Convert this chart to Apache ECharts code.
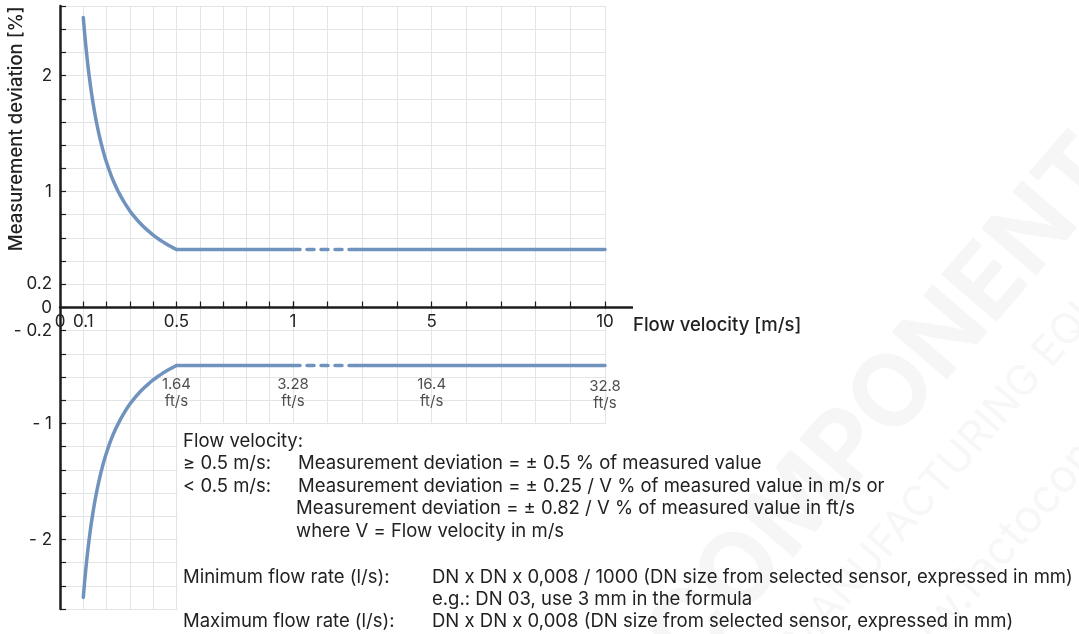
<!DOCTYPE html>
<html>
<head>
<meta charset="utf-8">
<script src="https://cdn.jsdelivr.net/npm/echarts/dist/echarts.min.js"></script>
<style>
html,body{margin:0;padding:0;background:#ffffff;}
#chart{width:1079px;height:634px;}
</style>
</head>
<body>
<div id="chart"></div>
<script>
// ---------------- data ----------------
const curveVelocity      = [0.1, 0.105, 0.11, 0.115, 0.12, 0.13, 0.14, 0.15, 0.16, 0.17, 0.18, 0.19, 0.2, 0.22, 0.24, 0.26, 0.28, 0.3, 0.32, 0.34, 0.36, 0.38, 0.4, 0.42, 0.44, 0.46, 0.48, 0.5];
const curveUpper         = [2.5, 2.381, 2.273, 2.174, 2.083, 1.923, 1.786, 1.667, 1.563, 1.471, 1.389, 1.316, 1.25, 1.136, 1.042, 0.962, 0.893, 0.833, 0.781, 0.735, 0.694, 0.658, 0.625, 0.595, 0.568, 0.543, 0.521, 0.5];
const curveLower         = [-2.5, -2.381, -2.273, -2.174, -2.083, -1.923, -1.786, -1.667, -1.563, -1.471, -1.389, -1.316, -1.25, -1.136, -1.042, -0.962, -0.893, -0.833, -0.781, -0.735, -0.694, -0.658, -0.625, -0.595, -0.568, -0.543, -0.521, -0.5];
const flatLeftVelocity   = [0.5, 1.0];
const breakVelocity      = [1.0, 2.8];
const flatRightVelocity  = [2.8, 10];
const flatUpper          = 0.5;
const flatLower          = -0.5;
const xTickLabels        = [0, 0.1, 0.5, 1, 5, 10];
const yTickLabels        = [2, 1, 0.2, 0, -0.2, -1, -2];
const ftVelocity         = [0.5, 1, 5, 10];
const ftValues           = ['1.64', '3.28', '16.4', '32.8'];
const xAxisTitle         = 'Flow velocity [m/s]';
const yAxisTitle         = 'Measurement deviation [%]';
const infoFlowRows = [
  ['Flow velocity:', ''],
  ['≥ 0.5 m/s:', 'Measurement deviation = ± 0.5 % of measured value'],
  ['< 0.5 m/s:', 'Measurement deviation = ± 0.25 / V % of measured value in m/s or'],
  ['', 'Measurement deviation = ± 0.82 / V % of measured value in ft/s'],
  ['', 'where V = Flow velocity in m/s']
];
const infoRateRows = [
  ['Minimum flow rate (l/s):', 'DN x DN x 0,008 / 1000 (DN size from selected sensor, expressed in mm)'],
  ['', 'e.g.: DN 03, use 3 mm in the formula'],
  ['Maximum flow rate (l/s):', 'DN x DN x 0,008 (DN size from selected sensor, expressed in mm)']
];
const watermark = ['COMPONENT', 'AND MANUFACTURING EQUIPMENT', 'www.factocomp.com'];

// ---------------- styling ----------------
const FONT = 'Inter, "Noto Sans", "DejaVu Sans", sans-serif';
const LINE_COLOR = '#7093be';
const AXIS_COLOR = '#1c1c1c';
const GRID_COLOR = '#e1e5e5';
const TEXT_COLOR = '#222222';
const Y_MIN = -2.6, Y_MAX = 2.6;
const GRID_TOP = 6, GRID_H = 603;

const chart = echarts.init(document.getElementById('chart'), null, {renderer: 'canvas'});

function r1(v) { return Math.round(v * 1000) / 1000; }
function fmtY(v) {
  v = r1(v);
  if (yTickLabels.indexOf(v) < 0) return '';
  return v < 0 ? '- ' + String(-v) : String(v);
}
function fmtX(v) {
  v = r1(v);
  return xTickLabels.indexOf(v) < 0 ? '' : String(v);
}
const pairs = (xs, ys) => xs.map((x, i) => [x, ys[i]]);
const flat = (xs, y) => xs.map(x => [x, y]);

const ftData = ftVelocity.map((v, i) => ({name: ftValues[i], value: [v, flatLower]}));
const ftLeft = ftData.filter(d => d.value[0] < 1);
const ftRight = ftData.filter(d => d.value[0] >= 1).map(d =>
  d.value[0] === 10 ? Object.assign({}, d, {label: {distance: 13}}) : d);

// x axes sit on y = 0 (the zero line of the value range)
const zeroOffset = -GRID_H * (0 - Y_MIN) / (Y_MAX - Y_MIN);

const axisCommonX = {
  type: 'value', position: 'bottom', offset: zeroOffset,
  axisLine: {show: true, onZero: false, lineStyle: {color: AXIS_COLOR, width: 2.5}},
  axisTick: {show: true, inside: true, length: 6, lineStyle: {color: AXIS_COLOR, width: 1.2}},
  splitLine: {show: true, lineStyle: {color: GRID_COLOR, width: 1}},
  axisLabel: {show: true, margin: 6, color: TEXT_COLOR, fontFamily: FONT, fontSize: 17, formatter: fmtX,
              showMinLabel: true, showMaxLabel: true, hideOverlap: false}
};

const lineBase = {
  type: 'line', symbol: 'none', showSymbol: false, animation: false, clip: false,
  lineStyle: {color: LINE_COLOR, width: 3.5, cap: 'round', join: 'round'}
};
const dashStyle = Object.assign({}, lineBase.lineStyle, {type: [7, 7], cap: 'round'});
const ftLabel = {
  show: true, position: 'bottom', distance: 11, color: TEXT_COLOR, fontFamily: FONT, fontSize: 15,
  lineHeight: 17, align: 'center', formatter: p => p.name + '\nft/s'
};

chart.setOption({
  animation: false,
  backgroundColor: '#ffffff',
  grid: [
    {left: 60, top: GRID_TOP, width: 233, height: GRID_H, outerBoundsMode: 'none', containLabel: false},
    {left: 293, top: GRID_TOP, width: 312, height: GRID_H, outerBoundsMode: 'none', containLabel: false}
  ],
  xAxis: [
    Object.assign({}, axisCommonX, {gridIndex: 0, min: 0, max: 1, interval: 0.1}),
    Object.assign({}, axisCommonX, {gridIndex: 1, min: 1, max: 10, interval: 1,
      axisLabel: Object.assign({}, axisCommonX.axisLabel, {formatter: v => (r1(v) === 1 ? '' : fmtX(v))}),
      name: xAxisTitle, nameLocation: 'end', nameGap: 28,
      nameTextStyle: {color: TEXT_COLOR, fontFamily: FONT, fontSize: 18.5, fontWeight: 500,
                      align: 'left', verticalAlign: 'top', padding: [8, 0, 0, 0]}})
  ],
  yAxis: [
    {type: 'value', gridIndex: 0, min: Y_MIN, max: Y_MAX, interval: 0.2,
     axisLine: {show: true, onZero: false, lineStyle: {color: AXIS_COLOR, width: 2.5}},
     axisTick: {show: true, inside: true, length: 6, lineStyle: {color: AXIS_COLOR, width: 1.2}},
     splitLine: {show: true, lineStyle: {color: GRID_COLOR, width: 1}},
     axisLabel: {show: true, margin: 8, color: TEXT_COLOR, fontFamily: FONT, fontSize: 17, formatter: fmtY,
                 showMinLabel: true, showMaxLabel: true, hideOverlap: false}},
    {type: 'value', gridIndex: 1, min: Y_MIN, max: Y_MAX, interval: 0.2,
     axisLine: {show: false}, axisTick: {show: false}, axisLabel: {show: false},
     splitLine: {show: true, lineStyle: {color: GRID_COLOR, width: 1}}}
  ],
  series: [
    Object.assign({}, lineBase, {name: 'upperCurve', xAxisIndex: 0, yAxisIndex: 0, smooth: 0.3, data: pairs(curveVelocity, curveUpper)}),
    Object.assign({}, lineBase, {name: 'lowerCurve', xAxisIndex: 0, yAxisIndex: 0, smooth: 0.3, data: pairs(curveVelocity, curveLower)}),
    Object.assign({}, lineBase, {name: 'upperFlatL', xAxisIndex: 0, yAxisIndex: 0, data: flat(flatLeftVelocity, flatUpper)}),
    Object.assign({}, lineBase, {name: 'lowerFlatL', xAxisIndex: 0, yAxisIndex: 0, data: flat(flatLeftVelocity, flatLower)}),
    Object.assign({}, lineBase, {name: 'upperBreak', xAxisIndex: 1, yAxisIndex: 1, data: flat(breakVelocity, flatUpper), lineStyle: dashStyle}),
    Object.assign({}, lineBase, {name: 'lowerBreak', xAxisIndex: 1, yAxisIndex: 1, data: flat(breakVelocity, flatLower), lineStyle: dashStyle}),
    Object.assign({}, lineBase, {name: 'upperFlatR', xAxisIndex: 1, yAxisIndex: 1, data: flat(flatRightVelocity, flatUpper)}),
    Object.assign({}, lineBase, {name: 'lowerFlatR', xAxisIndex: 1, yAxisIndex: 1, data: flat(flatRightVelocity, flatLower)}),
    {type: 'scatter', xAxisIndex: 0, yAxisIndex: 0, symbolSize: 0, data: ftLeft, label: ftLabel, z: 5, clip: false},
    {type: 'scatter', xAxisIndex: 1, yAxisIndex: 1, symbolSize: 0, data: ftRight, label: ftLabel, z: 5, clip: false}
  ]
});

// ---------------- decorations placed from the axes ----------------
const pZero = chart.convertToPixel({gridIndex: 1}, [10, 0]);
const pBoxL = chart.convertToPixel({gridIndex: 0}, [0.5, -1]);
const pTop = chart.convertToPixel({gridIndex: 0}, [0, Y_MAX]);

const graphics = [];
graphics.push({type: 'rect', z: 10, silent: true,
  shape: {x: pBoxL[0] + 1, y: pBoxL[1] + 1, width: pZero[0] + 10 - pBoxL[0], height: 634 - pBoxL[1]},
  style: {fill: '#ffffff'}});
graphics.push({type: 'line', z: 12, silent: true,
  shape: {x1: pZero[0], y1: pZero[1], x2: pZero[0] + 28, y2: pZero[1]},
  style: {stroke: AXIS_COLOR, lineWidth: 2.5}});
// faint watermark
graphics.push({type: 'text', z: 11, silent: true, x: 885, y: 405, rotation: 0.86,
  style: {text: watermark[0], font: 'bold 100px ' + FONT, fill: '#f6f6f6', align: 'center', verticalAlign: 'middle'}});
graphics.push({type: 'text', z: 11, silent: true, x: 965, y: 450, rotation: 0.86,
  style: {text: watermark[1], font: '42px ' + FONT, fill: '#f7f7f7', align: 'center', verticalAlign: 'middle'}});
graphics.push({type: 'text', z: 11, silent: true, x: 1035, y: 510, rotation: 0.86,
  style: {text: watermark[2], font: '46px ' + FONT, fill: '#f7f7f7', align: 'center', verticalAlign: 'middle'}});
// y axis title
graphics.push({type: 'text', z: 20, x: 16, y: (pTop[1] + pZero[1]) / 2 - 28, rotation: Math.PI / 2,
  style: {text: yAxisTitle, font: '500 18.5px ' + FONT, fill: TEXT_COLOR, align: 'center', verticalAlign: 'middle'}});
// notes
const colA = 183, colB = 298, colB2 = 296, colC = 432;
const flowTop = 441, flowStep = 22.5, rateTop = 577, rateStep = 22;
const noteFont = '18.5px ' + FONT;
infoFlowRows.forEach((row, i) => {
  const y = flowTop + i * flowStep;
  if (row[0]) graphics.push({type: 'text', z: 20, x: colA, y: y,
    style: {text: row[0], font: noteFont, fill: TEXT_COLOR, align: 'left', verticalAlign: 'middle'}});
  if (row[1]) graphics.push({type: 'text', z: 20, x: (i <= 2 ? colB : colB2), y: y,
    style: {text: row[1], font: noteFont, fill: TEXT_COLOR, align: 'left', verticalAlign: 'middle'}});
});
infoRateRows.forEach((row, i) => {
  const y = rateTop + i * rateStep;
  if (row[0]) graphics.push({type: 'text', z: 20, x: colA, y: y,
    style: {text: row[0], font: noteFont, fill: TEXT_COLOR, align: 'left', verticalAlign: 'middle'}});
  if (row[1]) graphics.push({type: 'text', z: 20, x: colC, y: y,
    style: {text: row[1], font: noteFont, fill: TEXT_COLOR, align: 'left', verticalAlign: 'middle'}});
});
chart.setOption({graphic: graphics});
</script>
</body>
</html>
